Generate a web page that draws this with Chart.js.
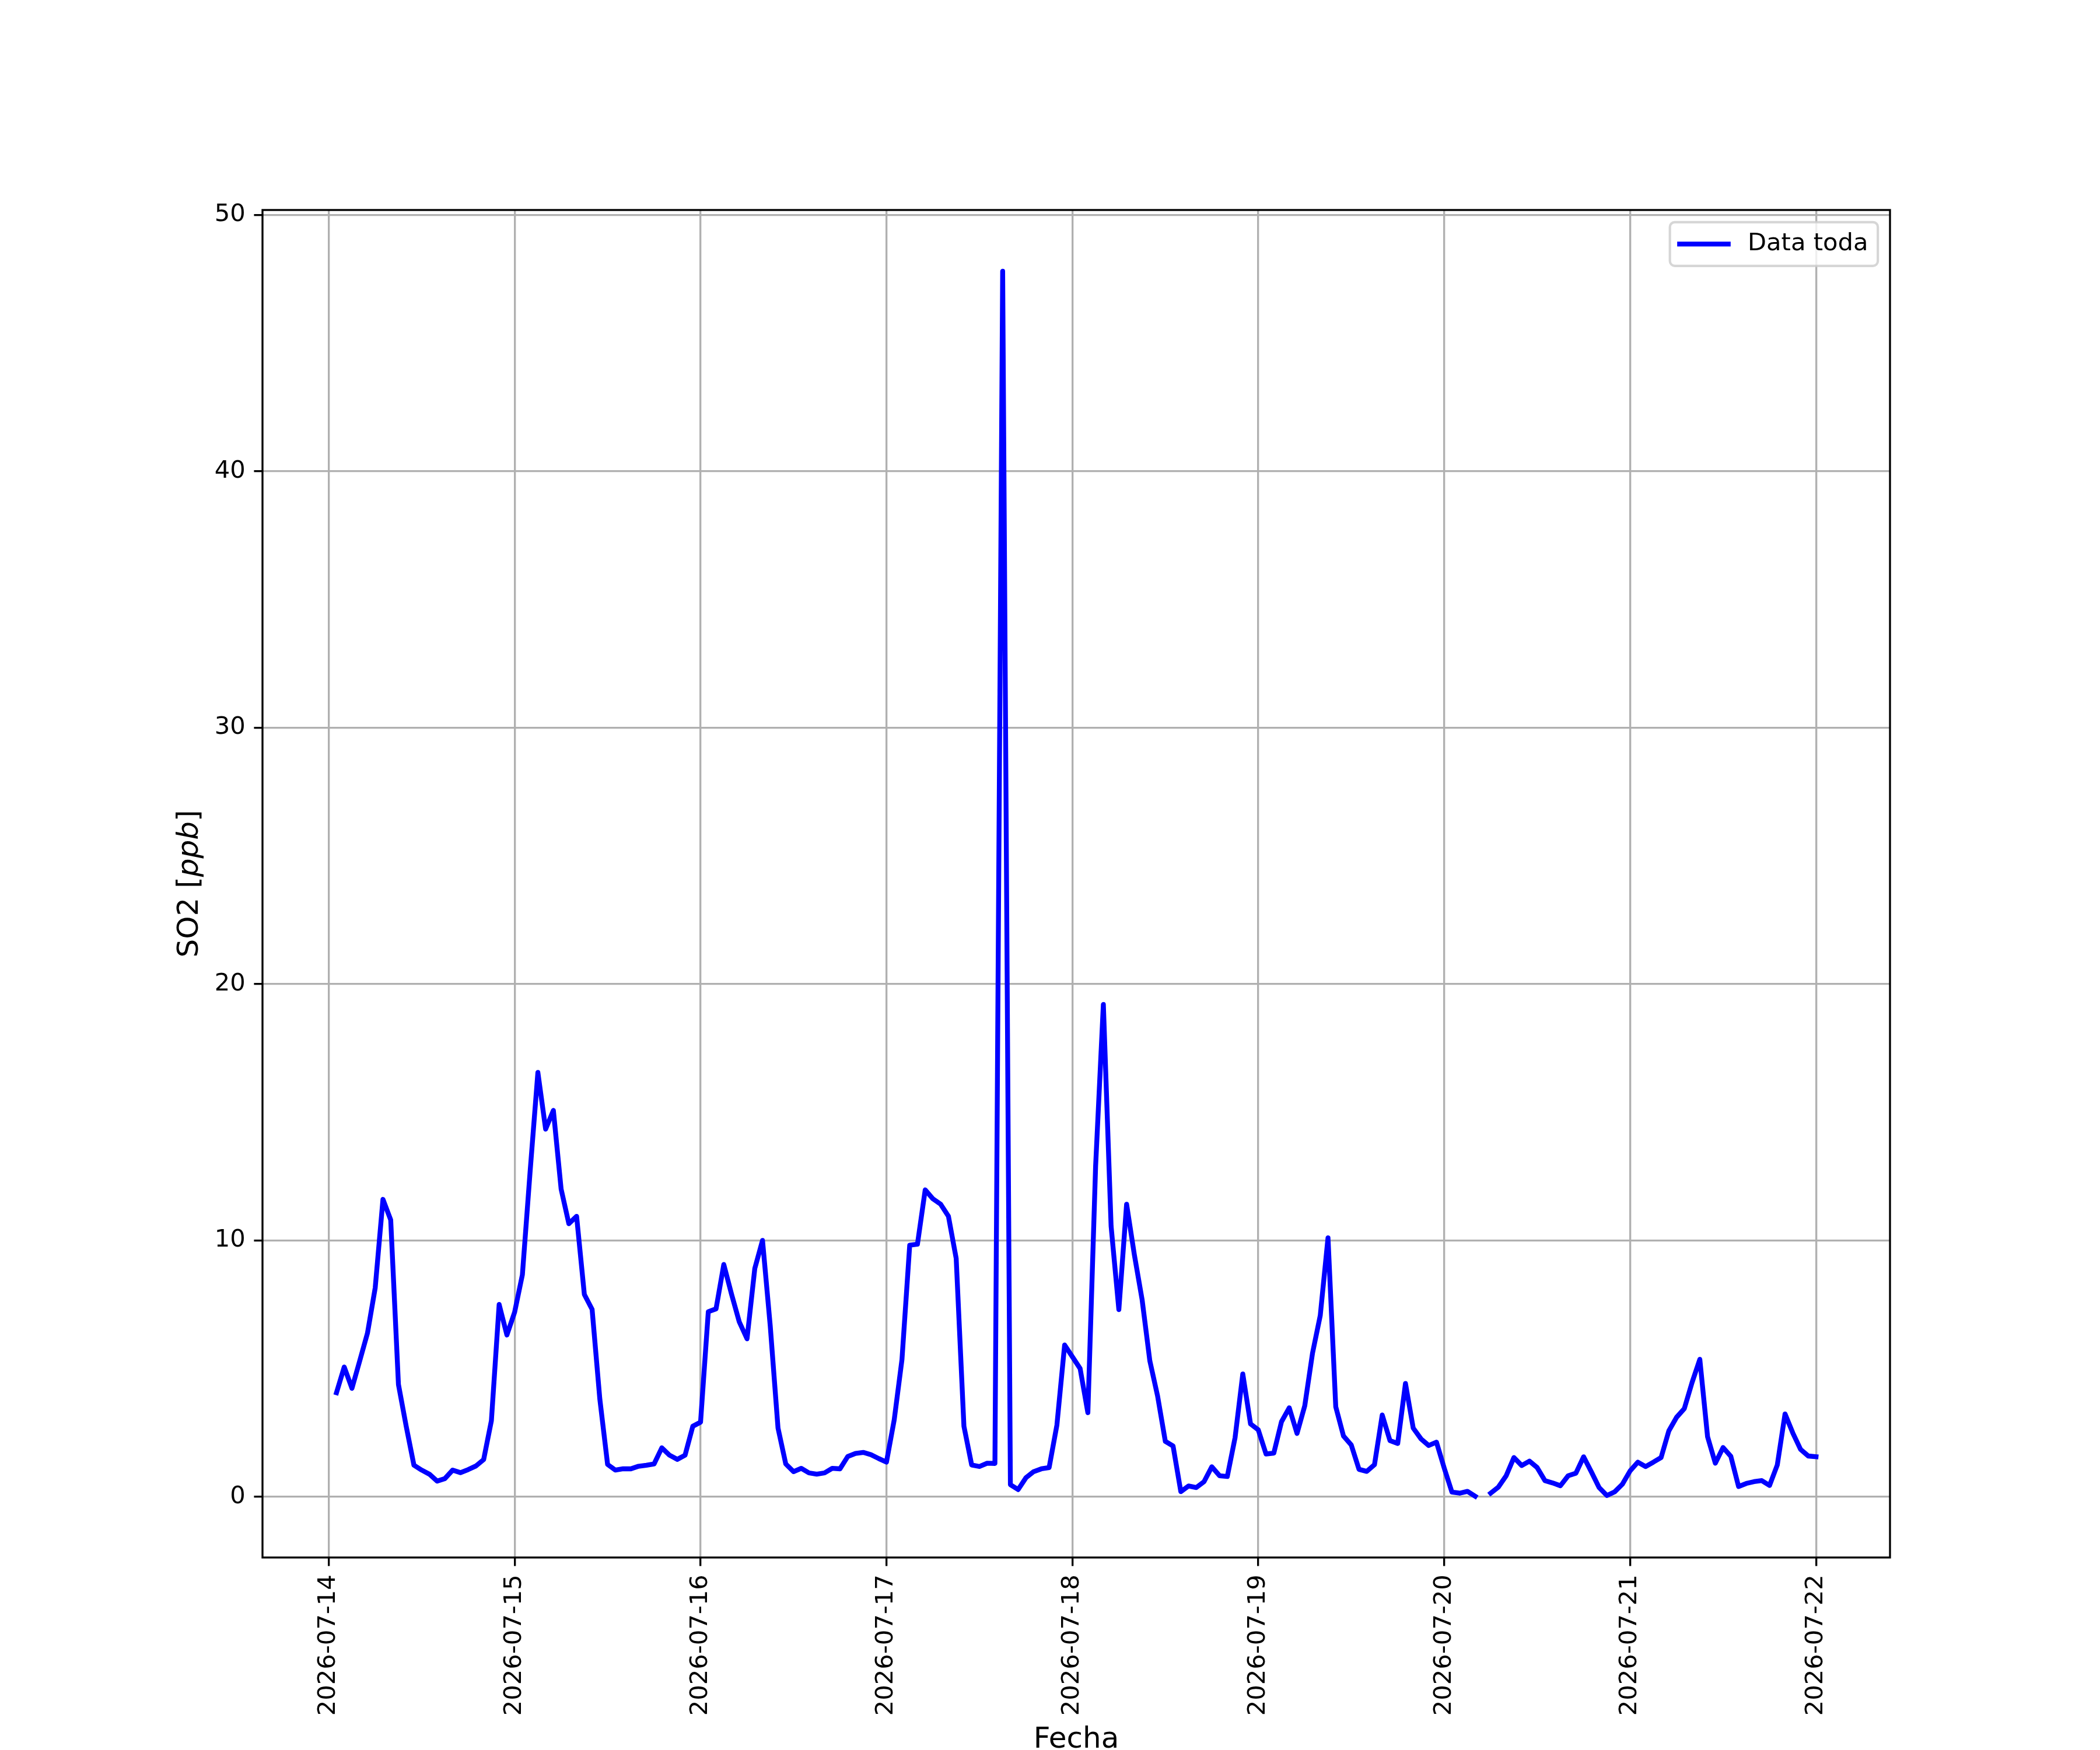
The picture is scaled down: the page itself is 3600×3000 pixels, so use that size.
<!DOCTYPE html>
<html>
<head>
<meta charset="utf-8">
<title>SO2 - Data toda</title>
<script src="https://cdn.jsdelivr.net/npm/chart.js@4.4.1/dist/chart.umd.min.js"></script>
<style>
  html, body { margin: 0; padding: 0; background: #fff; }
  #chart { display: block; }
</style>
</head>
<body>
<canvas id="chart" width="3600" height="3000" style="width:3600px;height:3000px"></canvas>
<script>
// hourly SO2 [ppb], first reading 2026-07-14 01:00, one list per day
const so2_0714 = [4.06, 5.06, 4.23, 5.3, 6.38, 8.15, 11.6, 10.8, 4.38, 2.75, 1.23, 1.04,
                  0.88, 0.61, 0.71, 1.04, 0.94, 1.06, 1.2, 1.45, 2.97, 7.5, 6.31];
const so2_0715 = [7.2, 8.66, 12.7, 16.55, 14.34, 15.07, 12.0, 10.65, 10.94, 7.89, 7.31, 3.8,
                  1.26, 1.04, 1.09, 1.09, 1.19, 1.23, 1.28, 1.91, 1.62, 1.46, 1.62, 2.75];
const so2_0716 = [2.91, 7.22, 7.33, 9.06, 7.9, 6.82, 6.16, 8.9, 10.0, 6.65, 2.68, 1.28,
                  0.98, 1.11, 0.93, 0.88, 0.93, 1.11, 1.09, 1.57, 1.69, 1.73, 1.64, 1.49];
const so2_0717 = [1.35, 3.0, 5.35, 9.81, 9.85, 11.97, 11.62, 11.41, 10.94, 9.3, 2.75, 1.24,
                  1.18, 1.31, 1.3, 47.8, 0.47, 0.28, 0.74, 0.98, 1.09, 1.14, 2.79, 5.92];
const so2_0718 = [5.46, 5.0, 3.28, 12.9, 19.2, 10.55, 7.3, 11.41, 9.44, 7.69, 5.3, 3.93,
                  2.16, 1.98, 0.2, 0.42, 0.36, 0.59, 1.17, 0.82, 0.79, 2.3, 4.79, 2.84];
const so2_0719 = [2.61, 1.67, 1.7, 2.93, 3.47, 2.47, 3.55, 5.6, 7.07, 10.1, 3.51, 2.37,
                  2.02, 1.07, 0.99, 1.25, 3.19, 2.19, 2.08, 4.42, 2.68, 2.26, 2.0, 2.13];
const so2_0720 = [1.12, 0.18, 0.14, 0.21, 0.02, null, 0.14, 0.38, 0.82, 1.53, 1.22, 1.39,
                  1.14, 0.63, 0.54, 0.43, 0.82, 0.92, 1.56, 0.97, 0.36, 0.05, 0.19, 0.49];
const so2_0721 = [1.01, 1.35, 1.18, 1.35, 1.53, 2.57, 3.1, 3.44, 4.46, 5.36, 2.34, 1.31,
                  1.92, 1.58, 0.4, 0.52, 0.59, 0.63, 0.44, 1.24, 3.23, 2.49, 1.85, 1.59];
const so2_0722 = [1.56];

const firstHour = 1; // hours after 2026-07-14 00:00
const dayLabels = ['2026-07-14', '2026-07-15', '2026-07-16', '2026-07-17', '2026-07-18',
                   '2026-07-19', '2026-07-20', '2026-07-21', '2026-07-22'];
const yTicks = [0, 10, 20, 30, 40, 50];
const seriesLabel = 'Data toda';
const xTitle = 'Fecha';

// matplotlib-ish sizes at dpi 300
const PT = 300 / 72;
const FONT = 10 * PT;        // ticks and legend
const TITLE_FONT = 12 * PT;  // axis labels
const FAMILY = '"DejaVu Sans"';

const so2 = [].concat(so2_0714, so2_0715, so2_0716, so2_0717, so2_0718,
                      so2_0719, so2_0720, so2_0721, so2_0722);
const points = so2.map((v, i) => ({ x: firstHour + i, y: v }));

// autoscale with 5% margins, like pyplot does
const xs = points.map(p => p.x);
const ys = so2.filter(v => v !== null);
const xSpan = Math.max(...xs) - Math.min(...xs);
const ySpan = Math.max(...ys) - Math.min(...ys);
const xMin = Math.min(...xs) - 0.05 * xSpan, xMax = Math.max(...xs) + 0.05 * xSpan;
const yMin = Math.min(...ys) - 0.05 * ySpan, yMax = Math.max(...ys) + 0.05 * ySpan;

const TICK_LEN = 3.5 * PT;
const TICK_PAD = 3.5 * PT;

// frame around the plot area (all four spines)
const framePlugin = {
    id: 'frame',
    afterDatasetsDraw(chart) {
        const { ctx, chartArea: a } = chart;
        ctx.save();
        ctx.strokeStyle = '#000';
        ctx.lineWidth = 0.8 * PT;
        ctx.strokeRect(a.left, a.top, a.right - a.left, a.bottom - a.top);
        ctx.restore();
    }
};

// axis titles; the y one has an italic unit
const axisTitlePlugin = {
    id: 'axisTitles',
    afterDraw(chart) {
        const { ctx, chartArea: a } = chart;
        ctx.save();
        ctx.fillStyle = '#000';

        // tick label extents are measured with the tick font
        ctx.font = `${FONT}px ${FAMILY}`;
        const xLabelW = Math.max(...dayLabels.map(s => ctx.measureText(s).width));
        const yLabelW = Math.max(...yTicks.map(v => ctx.measureText(String(v)).width));

        ctx.font = `${TITLE_FONT}px ${FAMILY}`;
        const xTop = a.bottom + TICK_LEN + TICK_PAD + xLabelW + 4 * PT;
        ctx.textAlign = 'center';
        ctx.textBaseline = 'alphabetic';
        ctx.fillText(xTitle, (a.left + a.right) / 2, xTop + 0.76 * TITLE_FONT);

        const baseX = a.left - TICK_LEN - TICK_PAD - yLabelW - 4 * PT - 0.24 * TITLE_FONT;
        const parts = [
            { t: 'SO2 [', f: `${TITLE_FONT}px ${FAMILY}` },
            { t: 'ppb', f: `italic ${TITLE_FONT}px ${FAMILY}` },
            { t: ']', f: `${TITLE_FONT}px ${FAMILY}` }
        ];
        let total = 0;
        parts.forEach(p => { ctx.font = p.f; p.w = ctx.measureText(p.t).width; total += p.w; });
        ctx.translate(baseX, (a.top + a.bottom) / 2);
        ctx.rotate(-Math.PI / 2);
        ctx.textAlign = 'left';
        let cx = -total / 2;
        parts.forEach(p => { ctx.font = p.f; ctx.fillText(p.t, cx, 0); cx += p.w; });
        ctx.restore();
    }
};

// legend box in the upper right corner
const legendPlugin = {
    id: 'boxLegend',
    afterDraw(chart) {
        const { ctx, chartArea: a } = chart;
        const ds = chart.data.datasets[0];
        ctx.save();
        ctx.font = `${FONT}px ${FAMILY}`;
        const textW = ctx.measureText(ds.label).width;
        const pad = 0.4 * FONT, handle = 2 * FONT, gap = 0.8 * FONT;
        const w = pad + handle + gap + textW + pad;
        const h = 2 * pad + FONT;
        const x = a.right - 0.5 * FONT - w;
        const y = a.top + 0.5 * FONT;
        const r = 0.2 * FONT;

        ctx.beginPath();
        ctx.moveTo(x + r, y);
        ctx.arcTo(x + w, y, x + w, y + h, r);
        ctx.arcTo(x + w, y + h, x, y + h, r);
        ctx.arcTo(x, y + h, x, y, r);
        ctx.arcTo(x, y, x + w, y, r);
        ctx.closePath();
        ctx.fillStyle = 'rgba(255,255,255,0.8)';
        ctx.fill();
        ctx.strokeStyle = 'rgba(204,204,204,0.8)';
        ctx.lineWidth = 1.0 * PT;
        ctx.stroke();

        const cy = y + h / 2;
        ctx.beginPath();
        ctx.moveTo(x + pad, cy);
        ctx.lineTo(x + pad + handle, cy);
        ctx.strokeStyle = ds.borderColor;
        ctx.lineWidth = ds.borderWidth;
        ctx.lineCap = 'square';
        ctx.stroke();

        ctx.fillStyle = '#000';
        ctx.textAlign = 'left';
        ctx.textBaseline = 'middle';
        ctx.fillText(ds.label, x + pad + handle + gap, cy);
        ctx.restore();
    }
};

const gridOpts = {
    color: '#b0b0b0',
    lineWidth: 0.8 * PT,
    drawTicks: true,
    tickLength: TICK_LEN,
    tickColor: '#000',
    tickWidth: 0.8 * PT
};

new Chart(document.getElementById('chart'), {
    type: 'line',
    data: {
        datasets: [{
            label: seriesLabel,
            data: points,
            borderColor: '#0000ff',
            borderWidth: 2 * PT,
            borderCapStyle: 'square',
            borderJoinStyle: 'round',
            pointRadius: 0,
            tension: 0,
            spanGaps: false,
            fill: false
        }]
    },
    options: {
        responsive: false,
        animation: false,
        devicePixelRatio: 1,
        layout: { padding: { left: 0, right: 360, top: 360, bottom: 0 } },
        plugins: {
            legend: { display: false },
            tooltip: { enabled: false }
        },
        scales: {
            x: {
                type: 'linear',
                min: xMin,
                max: xMax,
                afterBuildTicks: (scale) => {
                    scale.ticks = dayLabels.map((_, i) => ({ value: i * 24 }));
                },
                afterFit: (scale) => { scale.height = 330; },
                grid: gridOpts,
                border: { display: false },
                ticks: {
                    autoSkip: false,
                    minRotation: 90,
                    maxRotation: 90,
                    padding: TICK_PAD,
                    color: '#000',
                    font: { family: 'DejaVu Sans', size: FONT },
                    callback: (v) => dayLabels[Math.round(v / 24)]
                }
            },
            y: {
                type: 'linear',
                min: yMin,
                max: yMax,
                afterBuildTicks: (scale) => {
                    scale.ticks = yTicks.map(v => ({ value: v }));
                },
                afterFit: (scale) => { scale.width = 450; },
                grid: gridOpts,
                border: { display: false },
                ticks: {
                    padding: TICK_PAD,
                    color: '#000',
                    font: { family: 'DejaVu Sans', size: FONT },
                    callback: (v) => String(v)
                }
            }
        }
    },
    plugins: [framePlugin, axisTitlePlugin, legendPlugin]
});
</script>
</body>
</html>
